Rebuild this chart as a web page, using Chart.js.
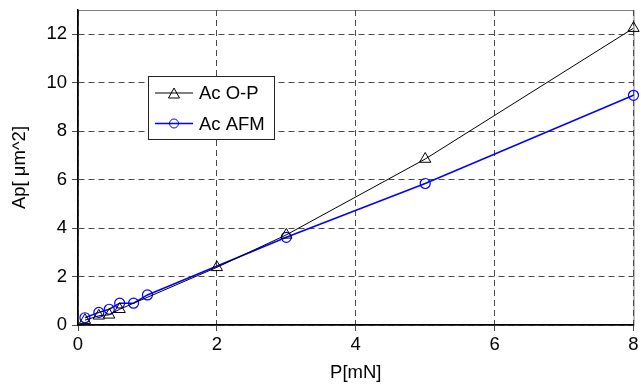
<!DOCTYPE html>
<html>
<head>
<meta charset="utf-8">
<script src="https://cdn.jsdelivr.net/npm/chart.js@4/dist/chart.umd.min.js"></script>
<style>
  html, body { margin: 0; padding: 0; background: #fff; }
  #wrap { width: 641px; height: 392px; }
</style>
</head>
<body>
<div id="wrap"><canvas id="myChart"></canvas></div>
<script>
// data
var opX = [0.1, 0.3, 0.45, 0.6, 2, 3, 5, 8];
var opY = [0.2, 0.38, 0.42, 0.65, 2.38, 3.72, 6.85, 12.25];
var afmX = [0.1, 0.3, 0.45, 0.6, 0.8, 1, 3, 5, 8];
var afmY = [0.3, 0.52, 0.65, 0.9, 0.9, 1.24, 3.62, 5.84, 9.48];
var seriesNames = ['Ac O-P', 'Ac AFM'];
var xTicks = [0, 2, 4, 6, 8];
var yTicks = [0, 2, 4, 6, 8, 10, 12];

function toPoints(xs, ys) {
    return xs.map(function (x, i) { return { x: x, y: ys[i] }; });
}

var FONT = 'Liberation Sans, Arial, sans-serif';
var FSIZE = 18.5;

// gray box round the plot, under everything
var frame = {
    id: 'frame',
    beforeDraw: function (chart) {
        var a = chart.chartArea, ctx = chart.ctx;
        ctx.save();
        ctx.strokeStyle = '#808080';
        ctx.lineWidth = 1;
        ctx.strokeRect(a.left + 0.5, a.top + 0.5, a.right - a.left, a.bottom - a.top);
        ctx.restore();
    }
};

// legend box inside the plot
var boxLegend = {
    id: 'boxLegend',
    afterDraw: function (chart) {
        var ctx = chart.ctx;
        var bx = 148, by = 76, bw = 126, bh = 63;
        ctx.save();
        ctx.fillStyle = '#fff';
        ctx.fillRect(bx, by, bw, bh);
        ctx.strokeStyle = '#222';
        ctx.lineWidth = 1;
        ctx.strokeRect(bx + 0.5, by + 0.5, bw, bh);
        ctx.font = FSIZE + 'px ' + FONT;
        ctx.textBaseline = 'middle';
        chart.data.datasets.forEach(function (ds, i) {
            var y = by + 17 + i * 30.5;
            ctx.strokeStyle = ds.borderColor;
            ctx.lineWidth = ds.borderWidth;
            ctx.beginPath();
            ctx.moveTo(155, y);
            ctx.lineTo(193, y);
            ctx.stroke();
            ctx.lineWidth = 1;
            ctx.beginPath();
            if (ds.pointStyle === 'triangle') {
                ctx.moveTo(174, y - 5);
                ctx.lineTo(179.5, y + 5);
                ctx.lineTo(168.5, y + 5);
                ctx.closePath();
            } else {
                ctx.arc(174, y, 4.5, 0, Math.PI * 2);
            }
            ctx.stroke();
            ctx.fillStyle = '#000';
            ctx.fillText(seriesNames[i], 199, y + 1);
        });
        ctx.restore();
    }
};

var ctx = document.getElementById('myChart').getContext('2d');
var myChart = new Chart(ctx, {
    type: 'scatter',
    data: {
        datasets: [{
            label: seriesNames[0],
            data: toPoints(opX, opY),
            showLine: true,
            borderColor: '#000',
            borderWidth: 1,
            backgroundColor: 'rgba(0,0,0,0)',
            pointStyle: 'triangle',
            pointRadius: 6.5,
            pointBorderWidth: 1,
            clip: false
        }, {
            label: seriesNames[1],
            data: toPoints(afmX, afmY),
            showLine: true,
            borderColor: '#0000ff',
            borderWidth: 1.5,
            backgroundColor: 'rgba(0,0,0,0)',
            pointStyle: 'circle',
            pointRadius: 5,
            pointBorderWidth: 1.2,
            clip: false
        }]
    },
    options: {
        responsive: true,
        maintainAspectRatio: false,
        animation: false,
        layout: { padding: { left: 0, top: 10, right: 2, bottom: 0 } },
        plugins: {
            legend: { display: false },
            tooltip: { enabled: false }
        },
        scales: {
            x: {
                type: 'linear',
                min: 0,
                max: 8,
                afterFit: function (s) { s.height = 67; s.paddingLeft = 0; s.paddingRight = 0; },
                afterBuildTicks: function (s) { s.ticks = xTicks.map(function (v) { return { value: v }; }); },
                ticks: { color: '#000', font: { family: FONT, size: FSIZE }, padding: 3, maxRotation: 0 },
                grid: { color: '#4a4a4a', tickColor: '#4a4a4a', tickLength: 6, tickBorderDash: [6, 4] },
                border: { color: '#000', width: 1.5, dash: [6, 4] },
                title: { display: true, text: 'P[mN]', color: '#000', font: { family: FONT, size: FSIZE }, padding: { top: 8, bottom: 8 } }
            },
            y: {
                type: 'linear',
                min: 0,
                max: 13,
                afterFit: function (s) { s.width = 78; s.paddingTop = 0; s.paddingBottom = 0; },
                afterBuildTicks: function (s) { s.ticks = yTicks.map(function (v) { return { value: v }; }); },
                ticks: { color: '#000', font: { family: FONT, size: FSIZE }, padding: 5 },
                grid: { color: '#4a4a4a', tickColor: '#4a4a4a', tickLength: 6, tickBorderDash: [6, 4] },
                border: { color: '#000', width: 1.5, dash: [6, 4] },
                title: { display: true, text: 'Ap[ μm^2]', color: '#000', font: { family: FONT, size: FSIZE }, padding: { top: 9, bottom: 9 } }
            }
        }
    },
    plugins: [frame, boxLegend]
});
</script>
</body>
</html>
